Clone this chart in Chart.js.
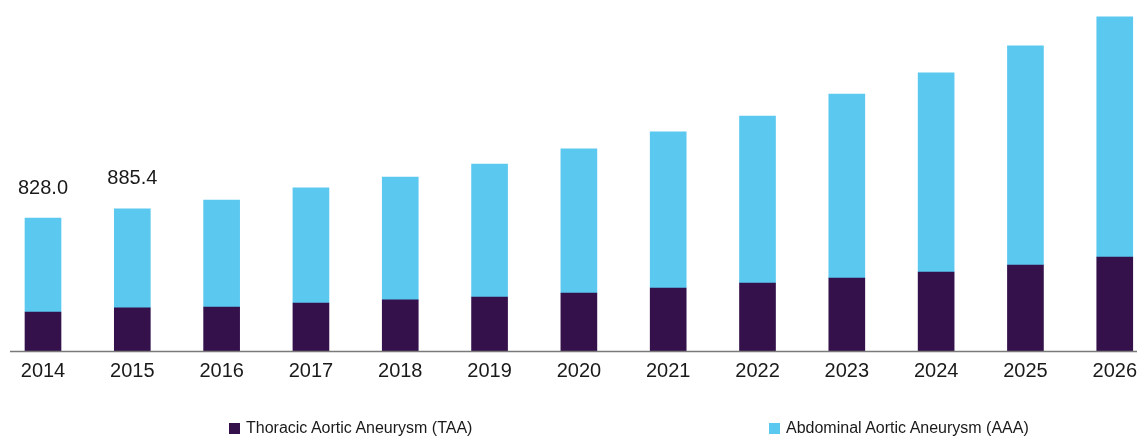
<!DOCTYPE html>
<html>
<head>
<meta charset="utf-8">
<script src="https://cdn.jsdelivr.net/npm/chart.js@4/dist/chart.umd.min.js"></script>
<style>
    html, body { margin: 0; padding: 0; background: #fff; }
    #wrap { position: relative; width: 1137px; height: 441px; }
    #legend { position: absolute; top: 418px; left: 0; width: 1137px; height: 20px;
              font-family: "Liberation Sans", Arial, sans-serif; font-size: 16px; color: #1a1a1a; }
    .item { position: absolute; top: 0; white-space: nowrap; line-height: 20px; }
    .box { display: inline-block; width: 11px; height: 11px; margin-right: 6px; vertical-align: -1px; }
</style>
</head>
<body>
<div id="wrap">
    <canvas id="chart" width="1137" height="441"></canvas>
    <div id="legend"></div>
</div>
<script>
// Data
const years = ['2014', '2015', '2016', '2017', '2018', '2019', '2020', '2021', '2022', '2023', '2024', '2025', '2026'];
const taaValues = [243, 268, 274, 299, 318, 336, 361, 392, 423, 454, 492, 535, 585];
const aaaValues = [585, 617.4, 666, 716, 765, 828, 897, 972, 1040, 1146, 1239, 1364, 1495];
const totalLabels = ['828.0', '885.4', '', '', '', '', '', '', '', '', '', '', ''];

const taaColor = '#35114b';
const aaaColor = '#5bc8f0';

// Legend (HTML)
const legend = document.getElementById('legend');
[
    { text: 'Thoracic Aortic Aneurysm (TAA)', color: taaColor, left: 229 },
    { text: 'Abdominal Aortic Aneurysm (AAA)', color: aaaColor, left: 769 }
].forEach(it => {
    const el = document.createElement('div');
    el.className = 'item';
    el.style.left = it.left + 'px';
    el.innerHTML = '<span class="box" style="background:' + it.color + '"></span>' + it.text;
    legend.appendChild(el);
});

// Baseline across the whole width
const baseline = {
    id: 'baseline',
    afterDatasetsDraw(chart) {
        const ctx = chart.ctx;
        const y = chart.chartArea.bottom + 0.5;
        ctx.save();
        ctx.strokeStyle = '#7a7a7a';
        ctx.lineWidth = 1.5;
        ctx.beginPath();
        ctx.moveTo(10, y);
        ctx.lineTo(chart.width, y);
        ctx.stroke();
        ctx.restore();
    }
};

// Total labels above stacks
const topLabels = {
    id: 'topLabels',
    afterDatasetsDraw(chart) {
        const ctx = chart.ctx;
        const meta = chart.getDatasetMeta(1);
        ctx.save();
        ctx.font = '20px "Liberation Sans", Arial, sans-serif';
        ctx.fillStyle = '#1a1a1a';
        ctx.textAlign = 'center';
        ctx.textBaseline = 'middle';
        meta.data.forEach((bar, i) => {
            if (totalLabels[i]) ctx.fillText(totalLabels[i], bar.x, bar.y - 30);
        });
        ctx.restore();
    }
};

new Chart(document.getElementById('chart').getContext('2d'), {
    type: 'bar',
    data: {
        labels: years,
        datasets: [
            { label: 'Thoracic Aortic Aneurysm (TAA)', data: taaValues, backgroundColor: taaColor, barThickness: 36, clip: false },
            { label: 'Abdominal Aortic Aneurysm (AAA)', data: aaaValues, backgroundColor: aaaColor, barThickness: 36, clip: false }
        ]
    },
    options: {
        responsive: false,
        animation: false,
        layout: { padding: { left: 43, right: 22, top: 0, bottom: 58 } },
        scales: {
            x: {
                stacked: true,
                offset: false,
                grid: { display: false },
                border: { display: false },
                ticks: {
                    autoSkip: false,
                    maxRotation: 0,
                    padding: 0,
                    color: '#1a1a1a',
                    font: { family: '"Liberation Sans", Arial, sans-serif', size: 20 }
                }
            },
            y: {
                stacked: true,
                display: false,
                min: 0,
                max: 2185
            }
        },
        plugins: {
            legend: { display: false },
            tooltip: { enabled: false }
        }
    },
    plugins: [baseline, topLabels]
});
</script>
</body>
</html>
